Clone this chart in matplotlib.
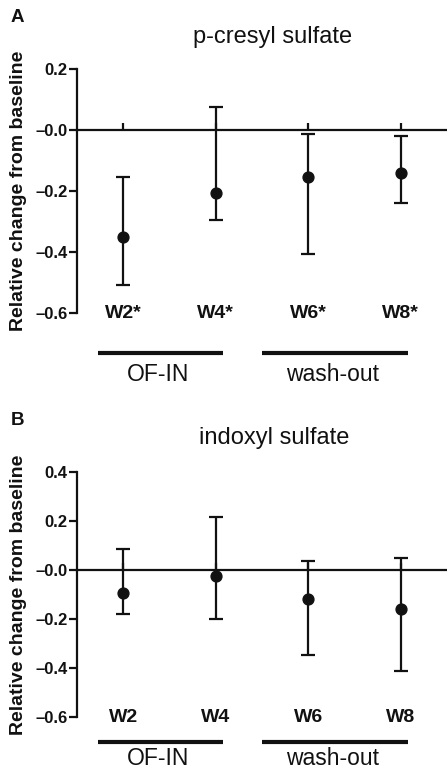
import matplotlib
matplotlib.use('Agg')
import matplotlib.pyplot as plt

plt.rcParams['font.family'] = ['Liberation Sans', 'DejaVu Sans']

weeks = [1, 2, 3, 4]
labels_a = ['W2*', 'W4*', 'W6*', 'W8*']
labels_b = ['W2', 'W4', 'W6', 'W8']

# p-cresyl sulfate: mean, upper and lower error limits
pcs_mean = [-0.35, -0.205, -0.153, -0.14]
pcs_upper = [-0.153, 0.075, -0.013, -0.02]
pcs_lower = [-0.507, -0.296, -0.407, -0.24]

# indoxyl sulfate
ixs_mean = [-0.094, -0.024, -0.118, -0.159]
ixs_upper = [0.086, 0.216, 0.037, 0.048]
ixs_lower = [-0.18, -0.2, -0.348, -0.413]

yticks_a = [-0.6, -0.4, -0.2, 0.0, 0.2]
yticks_b = [-0.6, -0.4, -0.2, 0.0, 0.2, 0.4]

groups = ['OF-IN', 'wash-out']
group_span = [(0.73, 2.08), (2.5, 4.08)]

col = '#111111'

fig = plt.figure(figsize=(4.47, 7.71), dpi=100)
ax1 = fig.add_axes([0.1723, 0.594, 0.8277, 0.3165])
ax2 = fig.add_axes([0.1723, 0.070, 0.8277, 0.3178])


def tick_fmt(v):
    if v <= 0:
        return '\u2013%.1f' % abs(v)
    return '%.1f' % v


def panel(ax, mean, up, lo, yt, xlabels, title, title_xy, letter, letter_y,
          bar_y, text_y, text_va):
    err = [[m - l for m, l in zip(mean, lo)], [u - m for m, u in zip(mean, up)]]
    ax.errorbar(weeks, mean, yerr=err, fmt='o', color=col, ms=7.8,
                elinewidth=1.6, capsize=4.8, capthick=1.6, zorder=3)
    ax.set_xlim(0.5, 4.5)
    ax.set_ylim(yt[0], yt[-1])
    for s in ['top', 'right']:
        ax.spines[s].set_visible(False)
    ax.spines['bottom'].set_position(('data', 0))
    ax.spines['left'].set_linewidth(1.6)
    ax.spines['bottom'].set_linewidth(1.6)
    ax.spines['left'].set_color(col)
    ax.spines['bottom'].set_color(col)
    ax.set_xticks(weeks)
    ax.set_xticklabels([])
    ax.tick_params(axis='x', direction='in', length=5, width=1.6, color=col)
    ax.set_yticks(yt)
    ax.set_yticklabels([tick_fmt(v) for v in yt], fontsize=12,
                       fontweight='bold', color=col)
    ax.tick_params(axis='y', direction='out', length=6, width=1.6,
                   color=col, pad=1)
    for x, lab in zip(weeks, xlabels):
        ax.text(x, yt[0], lab, ha='center', va='center', fontsize=14,
                fontweight='bold', color=col)
    ax.set_ylabel('Relative change from baseline', fontsize=14,
                  fontweight='bold', color=col)
    ax.yaxis.set_label_coords(-0.135, 0.5)
    ax.text(title_xy[0], title_xy[1], title, transform=ax.transAxes,
            ha='left', va='center', fontsize=17, color=col)
    ax.text(-0.162, letter_y, letter, transform=ax.transAxes, ha='center',
            va='center', fontsize=13.5, fontweight='bold', color=col)
    tr = ax.get_xaxis_transform()
    for name, (x0, x1) in zip(groups, group_span):
        ax.plot([x0, x1], [bar_y, bar_y], color=col, lw=3, transform=tr,
                clip_on=False, solid_capstyle='butt')
        ax.text((x0 + x1) / 2 - 0.03, text_y, name, transform=tr,
                ha='center', va=text_va, fontsize=16.5, color=col)


panel(ax1, pcs_mean, pcs_upper, pcs_lower, yticks_a, labels_a,
      'p-cresyl sulfate', (0.313, 1.13), 'A', 1.21, -0.164, -0.25, 'center')
panel(ax2, ixs_mean, ixs_upper, ixs_lower, yticks_b, labels_b,
      'indoxyl sulfate', (0.33, 1.139), 'B', 1.212, -0.102, -0.216, 'bottom')

fig.savefig('out.png', dpi=100)
